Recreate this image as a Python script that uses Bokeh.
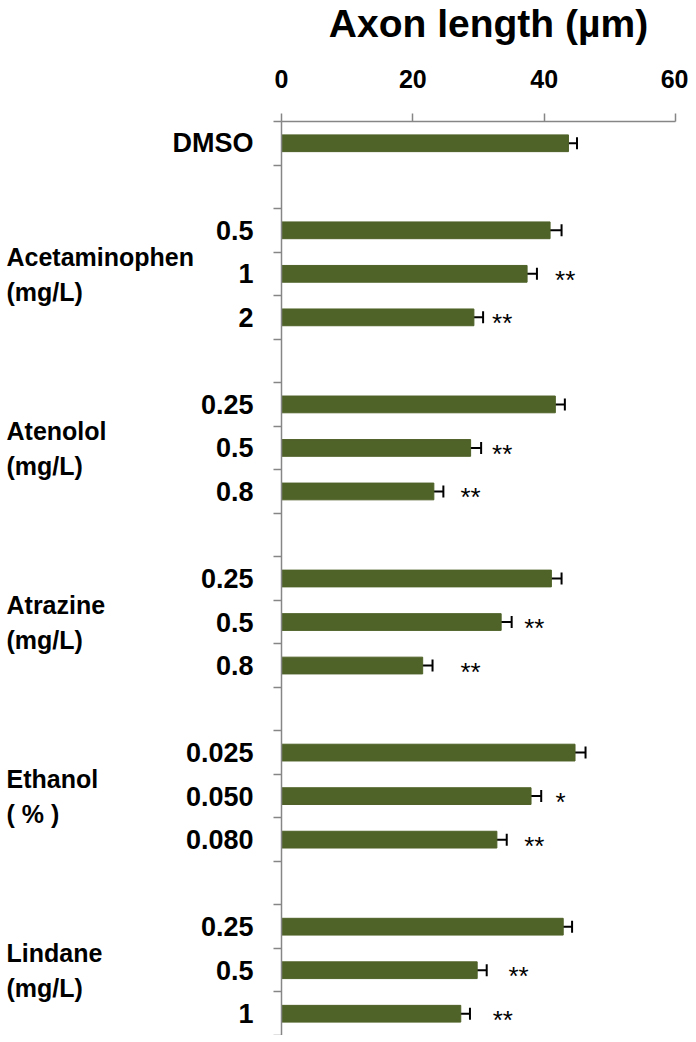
from bokeh.plotting import figure
from bokeh.layouts import row, column
from bokeh.models import Range1d, FixedTicker, Whisker, ColumnDataSource, TeeHead
from bokeh.embed import file_html
from bokeh.resources import INLINE
from bokeh.core.properties import value

# ---- data ----
group_names = ["", "Acetaminophen", "Atenolol", "Atrazine", "Ethanol", "Lindane"]
group_units = ["", "(mg/L)", "(mg/L)", "(mg/L)", "( % )", "(mg/L)"]
group_doses = [["DMSO"], ["0.5", "1", "2"], ["0.25", "0.5", "0.8"],
               ["0.25", "0.5", "0.8"], ["0.025", "0.050", "0.080"], ["0.25", "0.5", "1"]]
axon_length = [43.7, 40.9, 37.4, 29.3, 41.7, 28.8, 23.2, 41.1, 33.45, 21.5,
               44.7, 38.0, 32.8, 42.9, 29.8, 27.3]
sem = [1.3, 1.75, 1.5, 1.4, 1.45, 1.6, 1.45, 1.55, 1.6, 1.5,
       1.6, 1.55, 1.5, 1.35, 1.45, 1.4]
stars = ["", "", "**", "**", "", "**", "**", "", "**", "**",
         "", "*", "**", "", "**", "**"]
star_x = [0, 0, 43.2, 33.6, 0, 33.6, 28.8, 0, 38.5, 28.8,
          0, 42.5, 38.5, 0, 36.1, 33.7]
x_ticks = [0, 20, 40, 60]
title_text = "Axon length (µm)"

# ---- slot layout (one empty slot between groups) ----
slots, dose_labels, group_mid = [], [], []
pos = 0
for i, doses in enumerate(group_doses):
    if i > 0:
        pos += 1
    start = pos
    for d in doses:
        slots.append(pos)
        dose_labels.append(d)
        pos += 1
    group_mid.append((start + pos - 1) / 2)
n_slots = pos

FONT = "Liberation Sans"
GRAY = "#868686"
BAR = "#4f6228"
TITLE_H = 52
TOP = 121 - TITLE_H
H = 1035 - TITLE_H
LEFT_W = 273
MAIN_W = 8 + 394 + 13
TOTAL_W = LEFT_W + MAIN_W

yr = Range1d(n_slots - 0.5, -0.5)

# ---------- title strip ----------
tt = figure(width=TOTAL_W, height=TITLE_H, x_range=Range1d(0, TOTAL_W),
            y_range=Range1d(TITLE_H, 0), x_axis_location=None, y_axis_location=None,
            title=None, output_backend="svg", toolbar_location=None,
            min_border_left=0, min_border_right=0, min_border_top=0, min_border_bottom=0)
tt.outline_line_color = None
tt.xgrid.visible = False
tt.ygrid.visible = False
tt.text(x=[LEFT_W + 215], y=[23], text=[title_text], text_font=value(FONT),
        text_font_style="bold", text_font_size="39px", text_align="center",
        text_baseline="alphabetic", text_color="black")

# ---------- left panel: category texts ----------
lab = figure(width=LEFT_W, height=H, x_range=Range1d(0, LEFT_W), y_range=yr,
             x_axis_location=None, y_axis_location=None, title=None,
             output_backend="svg", toolbar_location=None,
             min_border_left=0, min_border_right=0, min_border_top=TOP,
             min_border_bottom=0)
lab.outline_line_color = None
lab.xgrid.visible = False
lab.ygrid.visible = False

lab.text(x=[LEFT_W - 20] * len(slots), y=slots, text=dose_labels,
         text_font=value(FONT), text_font_style="bold", text_font_size="27px",
         text_align="right", text_baseline="middle", text_color="black")

gn = [n for n in group_names if n]
gu = [u for n, u in zip(group_names, group_units) if n]
gm = [m for n, m in zip(group_names, group_mid) if n]
lab.text(x=[6] * len(gn), y=[m - 0.39 for m in gm], text=gn,
         text_font=value(FONT), text_font_style="bold", text_font_size="25px",
         text_align="left", text_baseline="middle", text_color="black")
lab.text(x=[6] * len(gu), y=[m + 0.41 for m in gm], text=gu,
         text_font=value(FONT), text_font_style="bold", text_font_size="25px",
         text_align="left", text_baseline="middle", text_color="black")

# ---------- main panel: bars ----------
p = figure(width=MAIN_W, height=H, x_range=Range1d(0, 60), y_range=yr,
           x_axis_location="above", title=None,
           output_backend="svg", toolbar_location=None,
           min_border_left=8, min_border_right=13, min_border_top=TOP,
           min_border_bottom=0)
p.outline_line_color = None
p.xgrid.visible = False
p.ygrid.visible = False

xa = p.xaxis[0]
xa.ticker = FixedTicker(ticks=x_ticks)
xa.major_tick_out = 8
xa.major_tick_in = 0
xa.minor_tick_out = 0
xa.axis_line_color = GRAY
xa.axis_line_width = 1.5
xa.major_tick_line_color = GRAY
xa.major_tick_line_width = 1.5
xa.major_label_text_font = FONT
xa.major_label_text_font_style = "bold"
xa.major_label_text_font_size = "25px"
xa.major_label_text_color = "black"
xa.major_label_standoff = 26

ya = p.yaxis[0]
ya.ticker = FixedTicker(ticks=slots, minor_ticks=[i - 0.5 for i in range(n_slots + 1)])
ya.major_label_overrides = {s: "" for s in slots}
ya.major_label_standoff = 0
ya.major_tick_out = 0
ya.major_tick_in = 0
ya.minor_tick_out = 8
ya.minor_tick_in = 0
ya.axis_line_color = GRAY
ya.axis_line_width = 1.5
ya.minor_tick_line_color = GRAY
ya.minor_tick_line_width = 1.5

src = ColumnDataSource(dict(y=slots, v=axon_length,
                            lo=[v - e for v, e in zip(axon_length, sem)],
                            hi=[v + e for v, e in zip(axon_length, sem)]))
p.hbar(y="y", left=0, right="v", height=0.385, source=src,
       fill_color=BAR, line_color=BAR)

w = Whisker(base="y", lower="lo", upper="hi", source=src, dimension="width",
            line_color="black", line_width=2,
            upper_head=TeeHead(size=12, line_color="black", line_width=2),
            lower_head=TeeHead(size=12, line_color="black", line_width=2))
p.add_layout(w)

sx = [x for x, s in zip(star_x, stars) if s]
sy = [y for y, s in zip(slots, stars) if s]
st = [s for s in stars if s]
p.text(x=sx, y=sy, text=st, text_font=value(FONT), text_font_size="26px",
       text_align="center", text_baseline="alphabetic", y_offset=6,
       text_color="black")

layout = column(tt, row(lab, p, spacing=0), spacing=0)
open("out.html", "w").write(file_html(layout, INLINE))
